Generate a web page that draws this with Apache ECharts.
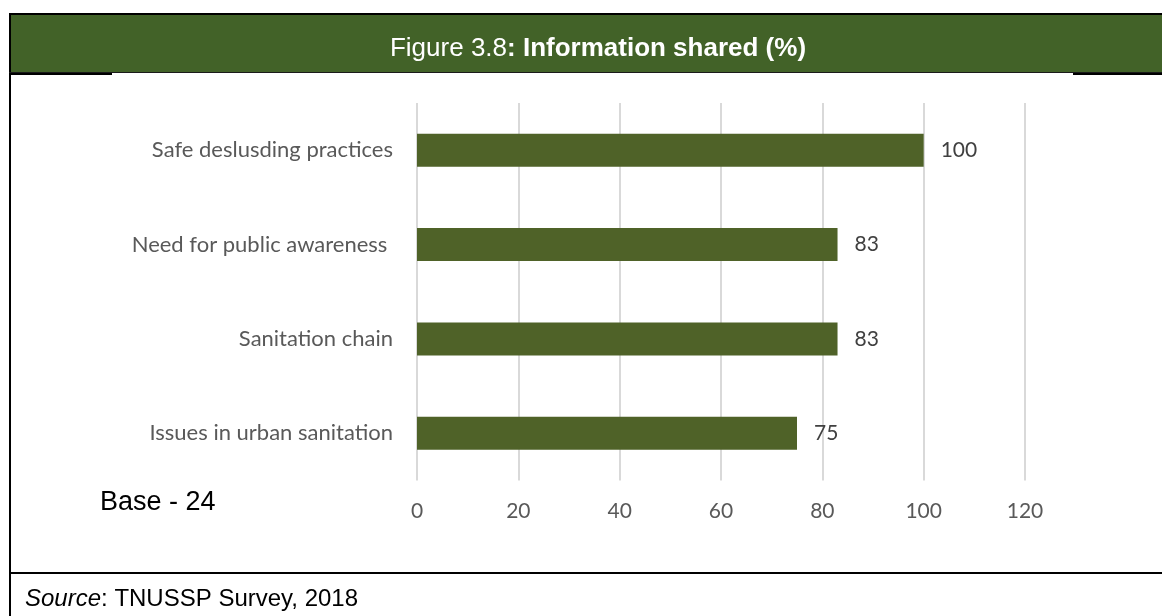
<!DOCTYPE html>
<html>
<head>
<meta charset="utf-8">
<script src="https://cdn.jsdelivr.net/npm/echarts@6/dist/echarts.min.js"></script>
<style>
  html, body { margin: 0; padding: 0; background: #fff; }
  #chart { width: 1162px; height: 616px; }
</style>
</head>
<body>
<div id="chart"></div>
<script>
// 数据
const categories = [
  'Safe deslusding practices',
  'Need for public awareness ',
  'Sanitation chain',
  'Issues in urban sanitation'
];
const values = [100, 83, 83, 75];
const xTicks = { min: 0, max: 120, interval: 20 };

const labelFont = 'Lato, "Open Sans", sans-serif';
const chart = echarts.init(document.getElementById('chart'));

const option = {
  backgroundColor: '#fff',
  animation: false,
  title: {
    text: '{n|Figure 3.8}{b|: Information shared (%)}',
    left: 593,
    textAlign: 'center',
    top: 31,
    textStyle: {
      fontWeight: 'normal',
      rich: {
        n: { fontFamily: 'Liberation Sans, Arial', fontSize: 26, fontWeight: 'normal', color: '#fff' },
        b: { fontFamily: 'Liberation Sans, Arial', fontSize: 26, fontWeight: 'bold', color: '#fff' }
      }
    }
  },
  grid: {
    left: 417,
    right: 137,
    top: 103,
    bottom: 135.5
  },
  xAxis: {
    type: 'value',
    min: xTicks.min,
    max: xTicks.max,
    interval: xTicks.interval,
    axisLine: { show: false },
    axisTick: { show: false },
    splitLine: { lineStyle: { color: '#d9d9d9', width: 2 } },
    axisLabel: {
      margin: 20,
      fontSize: 21,
      fontFamily: labelFont,
      color: '#595959'
    }
  },
  yAxis: {
    type: 'category',
    inverse: true,
    data: categories,
    axisLine: { show: false },
    axisTick: { show: false },
    axisLabel: {
      margin: 24,
      fontSize: 22,
      fontFamily: labelFont,
      color: '#595959'
    }
  },
  series: [
    {
      type: 'bar',
      data: values,
      barWidth: 33,
      itemStyle: { color: '#4f6228' },
      label: {
        show: true,
        position: 'right',
        distance: 17,
        fontSize: 21,
        fontFamily: labelFont,
        color: '#404040'
      }
    }
  ],
  graphic: [
    // 标题栏
    { type: 'rect', z: -1, shape: { x: 10, y: 14, width: 1152, height: 59 }, style: { fill: '#426228' } },
    { type: 'rect', shape: { x: 9, y: 13, width: 1153, height: 2 }, style: { fill: '#000' } },
    { type: 'rect', shape: { x: 9, y: 13, width: 2, height: 603 }, style: { fill: '#000' } },
    { type: 'rect', shape: { x: 9, y: 72, width: 1153, height: 1 }, style: { fill: '#1a1a1a' } },
    { type: 'rect', shape: { x: 9, y: 73, width: 103, height: 2 }, style: { fill: '#000' } },
    { type: 'rect', shape: { x: 1073, y: 73, width: 89, height: 2 }, style: { fill: '#000' } },
    // 底部分隔线
    { type: 'rect', shape: { x: 9, y: 572, width: 1153, height: 2 }, style: { fill: '#000' } },
    {
      type: 'text',
      left: 100,
      top: 489,
      style: { text: 'Base - 24', font: '27px "Liberation Sans", Arial', fill: '#000' }
    },
    {
      type: 'text',
      left: 25,
      top: 587,
      style: {
        text: '{i|Source}{n|: TNUSSP Survey, 2018}',
        rich: {
          i: { font: 'italic 24px "Liberation Sans", Arial', fill: '#000' },
          n: { font: '24px "Liberation Sans", Arial', fill: '#000' }
        }
      }
    }
  ]
};

chart.setOption(option);

window.addEventListener('resize', () => {
  chart.resize();
});
</script>
</body>
</html>
